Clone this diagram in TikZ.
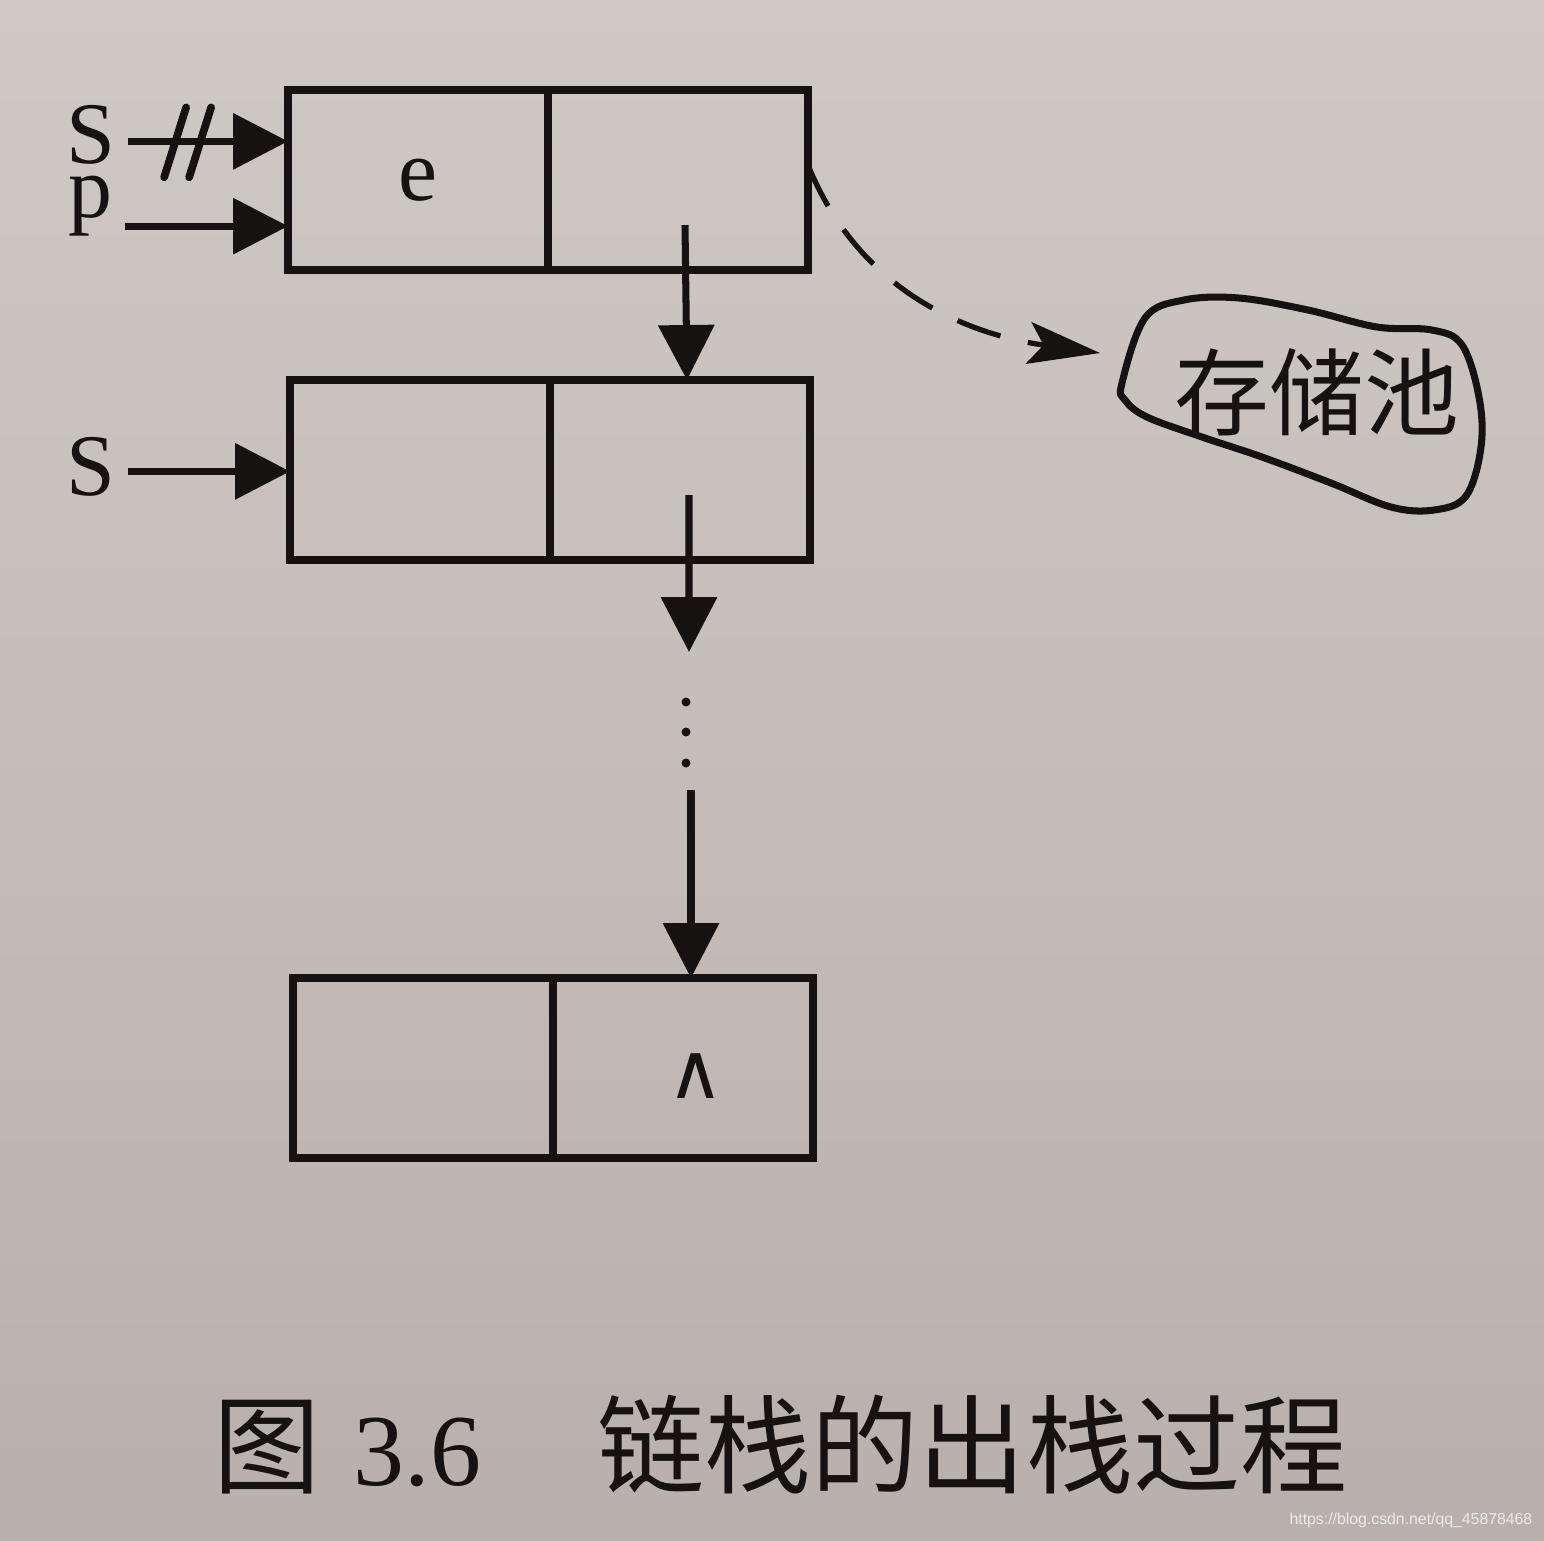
\documentclass[tikz,border=0pt]{standalone}
\usepackage{fontspec}
\setmainfont{Liberation Serif}
\newfontfamily\cjk{Noto Sans CJK SC}
\newfontfamily\wmfont{Liberation Sans}
\newfontfamily\symfont{DejaVu Sans}
\usetikzlibrary{positioning,arrows.meta}
\definecolor{paper}{RGB}{207,201,198}
\definecolor{paperdark}{RGB}{184,176,172}
\definecolor{ink}{RGB}{22,18,18}
\definecolor{wmark}{RGB}{238,234,231}
\tikzset{
	cell/.style={draw=ink, line width=2.2pt, text=ink,
		minimum width=2.6cm, minimum height=1.8cm,
		inner sep=0pt, outer sep=0pt, font=\fontsize{25}{28}\selectfont},
	lbl/.style={text=ink, inner sep=0pt, anchor=base, font=\fontsize{25}{28}\selectfont},
	ptr/.style={draw=ink, line width=2pt, -{Triangle[length=0.55cm,width=0.55cm]}},
	freed/.style={draw=ink, line width=1.5pt, dash pattern=on 13pt off 8pt,
		-{Stealth[length=0.72cm,width=0.42cm,inset=0.15cm]}},
	cut/.style={draw=ink, line width=2.2pt, line cap=round}
}
\begin{document}
\begin{tikzpicture}[node distance=0pt]
		\shade[top color=paper, bottom color=paperdark] (0,0) rectangle (15.44,-15.40);
		\useasboundingbox (0,0) rectangle (15.44,-15.40);

		\node[cell] (d1) at (4.18,-1.80) {e};
		\node[cell, right=of d1] (n1) {};
		\node[cell] (d2) at (4.20,-4.70) {};
		\node[cell, right=of d2] (n2) {};
		\node[cell] (d3) at (4.23,-10.68) {};
		\node[cell, right=of d3] (n3) {};
		\node[text=ink, inner sep=0pt, font=\symfont\fontsize{22}{24}\selectfont
		] (nilmark) at ([xshift=0.13cm,yshift=-0.08cm]n3.center) {∧};

		\node[lbl] (s1) at (0.91,-1.63) {S};
		\node[lbl] (p) at (0.90,-2.17) {p};
		\node[lbl] (s2) at (0.91,-4.95) {S};
		\coordinate (s1a) at ([xshift=0.12cm,yshift=-0.07cm]s1.east);
		\coordinate (pa) at ([xshift=0.12cm,yshift=-0.205cm]p.east);
		\coordinate (s2a) at ([xshift=0.12cm,yshift=-0.05cm]s2.east);
		\draw[ptr] (s1a) -- (s1a -| d1.west);
		\draw[ptr] (pa) -- (pa -| d1.west);
		\draw[ptr] (s2a) -- (s2a -| d2.west);
		\foreach \dx in {0.36,0.61}
			\draw[cut] ([xshift=\dx cm,yshift=-0.36cm]s1a) -- ++(0.22,0.70);

		\draw[ptr] ([xshift=0.07cm,yshift=-0.45cm]n1.center) -- ([xshift=0.07cm]n2.north);
		\coordinate (more) at (6.89,-6.52);
		\coordinate (last) at (6.91,-7.90);
		\draw[ptr] ([xshift=0.09cm,yshift=-0.25cm]n2.center) -- (more);
		\foreach \y in {7.02,7.32,7.63}
			\fill[ink] (6.86,-\y) circle (0.045);
		\draw[ptr] (last) -- (last |- n3.north);

		\node[text=ink, font=\cjk\fontsize{27}{30}\selectfont] (pool) at (13.17,-3.92) {存储池};
		\draw[ink, line width=2pt] plot[smooth cycle, tension=0.6] coordinates {
			(11.22,-3.83) (11.45,-3.18) (11.84,-3.00) (12.39,-2.98) (13.08,-3.10)
			(13.77,-3.27) (14.32,-3.30) (14.62,-3.45) (14.79,-3.97) (14.81,-4.47)
			(14.66,-4.96) (14.34,-5.10) (13.91,-5.07) (13.31,-4.83) (12.62,-4.57)
			(12.02,-4.37) (11.47,-4.17) (11.25,-4.00)};
		\coordinate (pooltip) at (11.00,-3.53);
		\draw[freed] ([yshift=0.15cm]n1.east) to[out=-68,in=172] (pooltip);

		\node[anchor=west, inner sep=0pt, text=ink] (cap) at (2.13,-14.45) {%
			{\cjk\fontsize{30.5}{34}\selectfont 图}\hspace{0.33cm}%
			{\fontsize{29}{34}\selectfont 3.6}\hspace{1.16cm}%
			{\cjk\fontsize{30.5}{34}\selectfont 链栈的出栈过程}};
		\node[anchor=east, inner sep=0pt, text=wmark, font=\wmfont\fontsize{4.5}{5}\selectfont
		] (wm) at (15.33,-15.20) {https://blog.csdn.net/qq\_45878468};

	\end{tikzpicture}
\end{document}
